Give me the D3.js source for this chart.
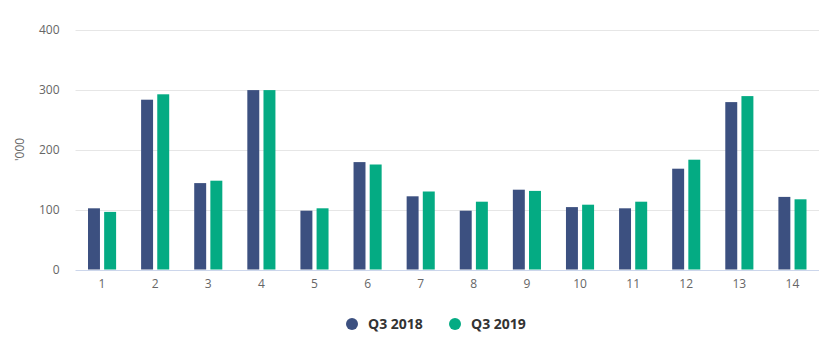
<!DOCTYPE html>
<html>
<head>
<meta charset="utf-8">
<script src="https://cdn.jsdelivr.net/npm/d3@7"></script>
<style>
  html, body { margin: 0; padding: 0; background: #ffffff; }
  svg { display: block; font-family: "Open Sans", "Noto Sans", sans-serif; }
</style>
</head>
<body>
<svg id="chart" width="822" height="338"></svg>
<script>
// Quarterly totals ('000) per category
const categories = ["1", "2", "3", "4", "5", "6", "7", "8", "9", "10", "11", "12", "13", "14"];
const seriesNames = ["Q3 2018", "Q3 2019"];
const q3_2018 = [102, 283, 144, 299, 98, 179, 122, 98, 133, 104, 102, 168, 279, 121];
const q3_2019 = [96, 292, 148, 299, 102, 175, 130, 113, 131, 108, 113, 183, 289, 117];
const yTicks = [0, 100, 200, 300, 400];
const colors = ["#3c5080", "#04ab83"];

const svg = d3.select("#chart");
const margin = { left: 75.5, right: 3, top: 29.5, bottom: 68 };
const W = 822, H = 338;

const x0 = d3.scaleBand().domain(categories).range([margin.left, W - margin.right]).paddingInner(0).paddingOuter(0);
const groupPad = 12.5;
const x1 = d3.scaleBand().domain(seriesNames)
  .range([groupPad, x0.bandwidth() - groupPad]).paddingInner(0.26).paddingOuter(0);
const y = d3.scaleLinear().domain([0, 400]).range([H - margin.bottom - 0.5, margin.top]);

// Horizontal grid lines
svg.append("g").selectAll("line").data(yTicks.filter(d => d > 0)).join("line")
  .attr("x1", margin.left).attr("x2", W - margin.right)
  .attr("y1", d => Math.round(y(d)) + 0.5).attr("y2", d => Math.round(y(d)) + 0.5)
  .attr("stroke", "#e6e6e6").attr("stroke-width", 1);

// Y axis labels
const yAxis = d3.axisLeft(y).tickValues(yTicks).tickSize(0).tickPadding(0);
const gy = svg.append("g").attr("transform", `translate(${margin.left - 16},0)`).call(yAxis);
gy.select(".domain").remove();
gy.selectAll("text").attr("fill", "#666666").style("font-size", "12px")
  .attr("font-family", "Open Sans, Noto Sans, sans-serif");

// Y axis title
svg.append("text")
  .attr("transform", `translate(24,${(y(0) + y(400)) / 2}) rotate(-90)`)
  .attr("text-anchor", "middle")
  .attr("fill", "#666666").style("font-size", "12px")
  .text("'000");

// Bars
const data = categories.map((c, i) => ({ c, vals: [q3_2018[i], q3_2019[i]] }));
const groups = svg.append("g").selectAll("g").data(data).join("g")
  .attr("transform", d => `translate(${x0(d.c)},0)`);
groups.selectAll("rect").data(d => d.vals.map((v, j) => ({ name: seriesNames[j], v, j }))).join("rect")
  .attr("x", d => x1(d.name))
  .attr("width", x1.bandwidth())
  .attr("y", d => y(d.v))
  .attr("height", d => y(0) - y(d.v))
  .attr("fill", d => colors[d.j]);

// X axis
const xAxis = d3.axisBottom(x0).tickSize(0).tickPadding(9);
const gx = svg.append("g").attr("transform", `translate(0,${Math.round(y(0)) + 0.5})`).call(xAxis);
gx.select(".domain").attr("stroke", "#ccd6eb").attr("d", `M${margin.left},0H${W - margin.right}`);
gx.selectAll("text").attr("fill", "#666666").style("font-size", "12px")
  .attr("font-family", "Open Sans, Noto Sans, sans-serif");

// Legend
const legendX = [352, 455];
const legend = svg.append("g").selectAll("g").data(seriesNames).join("g")
  .attr("transform", (d, i) => `translate(${legendX[i]},324)`);
legend.append("circle").attr("r", 6).attr("fill", (d, i) => colors[i]);
legend.append("text").attr("x", 16).attr("dy", "0.35em")
  .attr("fill", "#333333").style("font-size", "14px").style("font-weight", "bold")
  .text(d => d);
</script>
</body>
</html>
